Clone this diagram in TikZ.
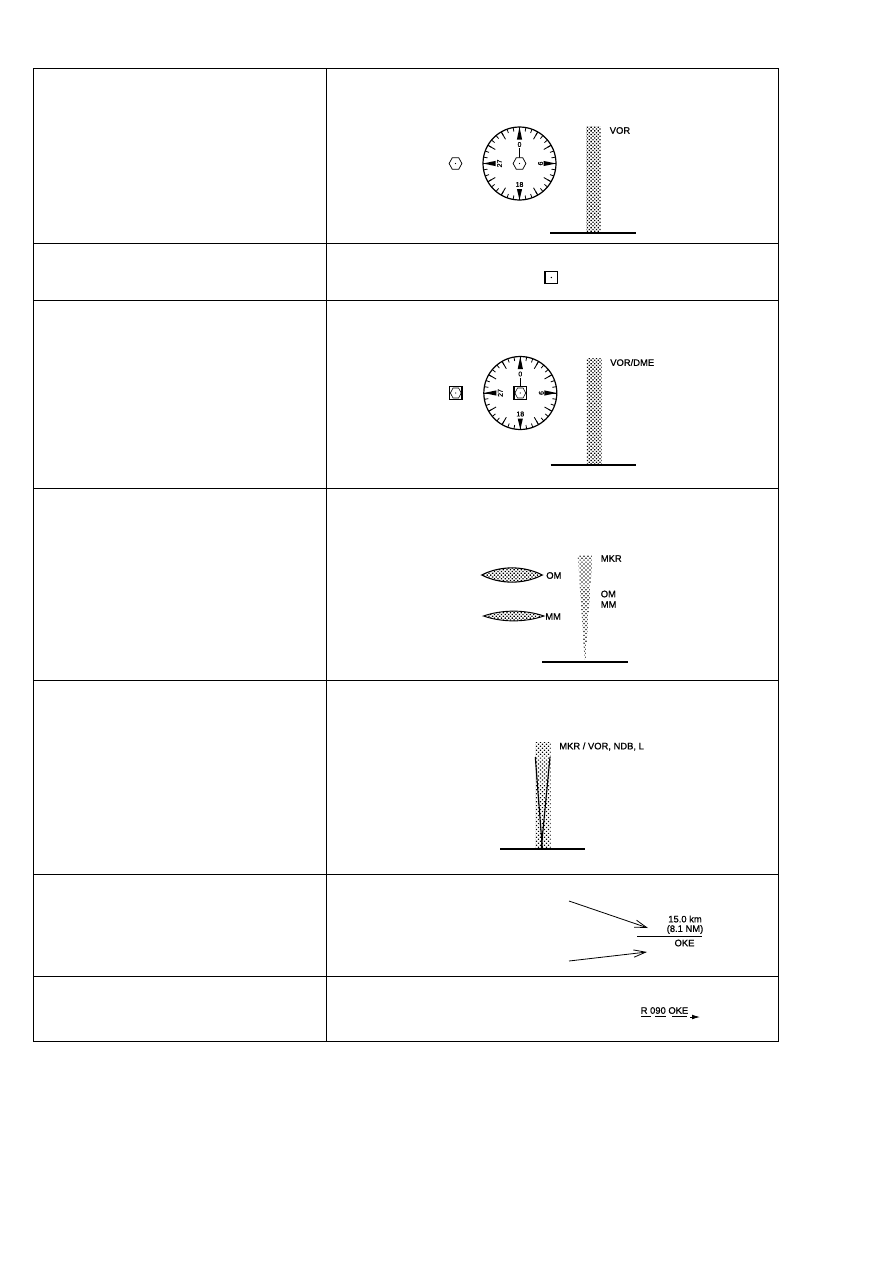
\documentclass[tikz,border=0pt]{standalone}
\usepackage{fontspec}
\setmainfont{Liberation Sans}
\newfontfamily\heavy[FakeBold=0.7]{Liberation Sans}
\usetikzlibrary{patterns.meta,arrows.meta,calc}
\tikzset{
  rule/.style={line width=0.75pt,black},
  ground/.style={line width=1.3pt,black},
  stipple/.style={pattern={Dots[distance=1.9pt,radius=0.68pt,angle=45]},pattern color=black},
  sparse/.style={pattern={Dots[distance=2.1pt,radius=0.64pt,angle=45]},pattern color=black},
  lbl/.style={font=\fontsize{7.05}{8}\heavy,inner sep=0pt,anchor=west},
  clbl/.style={font=\fontsize{7.05}{8}\heavy,inner sep=0pt,anchor=center},
  dialnum/.style={font=\fontsize{5.2}{6}\heavy,inner sep=0pt},
  sym/.style={line width=0.55pt,black},
  openarrow/.style={line width=0.6pt,-{Straight Barb[length=9pt,width=5.5pt,line width=0.6pt]}},
}
% hexagonal beacon mark with a centre dot
\newcommand{\hexmark}[1]{
  \draw[sym,fill=white] ($(#1)+(-6.4,0)$) -- ($(#1)+(-3.2,-5.8)$) -- ($(#1)+(3.2,-5.8)$)
     -- ($(#1)+(6.4,0)$) -- ($(#1)+(3.2,5.8)$) -- ($(#1)+(-3.2,5.8)$) -- cycle;
  \fill ($(#1)$) circle[radius=0.6];
}
% square-framed mark, the hexagon standing inside the frame
\newcommand{\dmemark}[1]{
  \draw[line width=1pt,fill=white] ($(#1)+(-6.3,-6.3)$) rectangle ($(#1)+(6.3,6.3)$);
  \draw[line width=0.45pt] ($(#1)+(-5.4,0)$) -- ($(#1)+(-2.8,-5)$) -- ($(#1)+(2.8,-5)$)
     -- ($(#1)+(5.4,0)$) -- ($(#1)+(2.8,5)$) -- ($(#1)+(-2.8,5)$) -- cycle;
  \fill ($(#1)$) circle[radius=0.6];
}
% compass rose: graduated ring, cardinal wedges and numerals
\newcommand{\rose}[2]{
  \begin{scope}[shift={(#1,#2)}]
    \draw[line width=0.9pt] (0,0) circle[radius=36.5];
    \foreach \a in {0,10,...,350}{\draw[line width=0.6pt] (\a:36.5) -- (\a:32.5);}
    \foreach \a in {30,60,120,150,210,240,300,330}{\draw[line width=0.65pt] (\a:36.5) -- (\a:28);}
    \foreach \a/\b in {0/24,90/25.5,180/24,270/24}{\fill (\a:36.5) -- ($(\a:\b)+(\a+90:2.6)$) -- ($(\a:\b)+(\a-90:2.6)$) -- cycle;}
    \node[dialnum] (n0) at (0,-19) {0};
    \node[dialnum,rotate=-90] (n9) at (21,0) {9};
    \node[dialnum] (n18) at (0,21) {18};
    \node[dialnum,rotate=90] (n27) at (-20,0) {27};
    \draw[line width=0.6pt] (0,-15.5) -- (0,-6);
  \end{scope}
}
\begin{document}
\begin{tikzpicture}[x=0.75pt,y=-0.75pt]
\useasboundingbox (0,0) rectangle (893,1263);
\fill[white] (0,0) rectangle (893,1263);
% table frame and rows
\draw[rule] (33,68.5) rectangle (778,1041);
\draw[rule] (326,68.5) -- (326,1041);
\foreach \yy in {243,300,488,680,874,976}{\draw[rule] (33,\yy) -- (778,\yy);}

% VOR row
\rose{519.5}{163.5}
\hexmark{519.5,163.5}
\hexmark{455.5,163.5}
\path[stipple] (586,126) rectangle (600.5,233);
\draw[ground] (550,233) -- (636,233);
\node[lbl] (vor) at (609.5,130.5) {VOR};

% DME mark row
\draw[line width=0.9pt] (545,271.2) rectangle (557.5,283.8);
\fill (551.3,277.5) circle[radius=0.7];

% VOR/DME row
\rose{520.3}{393}
\dmemark{520.3,393}
\dmemark{455.8,393}
\path[stipple] (586.5,358) rectangle (601.5,465);
\draw[ground] (550.5,465) -- (636,465);
\node[lbl] (vordme) at (610,362.5) {VOR/DME};

% marker beacon row
\path[sparse] (577.7,555) -- (592.7,555) -- (585.6,660) -- (584.6,660) -- cycle;
\draw[ground] (542,662) -- (627.5,662);
\draw[line width=0.8pt,preaction={stipple}] (481.7,575) .. controls (500,565.5) and (524,565.5) .. (542.3,575)
   .. controls (524,584.5) and (500,584.5) .. (481.7,575) -- cycle;
\draw[line width=0.7pt,preaction={stipple}] (483.5,616) .. controls (502,609.5) and (525,609.5) .. (544,616)
   .. controls (525,622.5) and (502,622.5) .. (483.5,616) -- cycle;
\node[lbl] (om1) at (546,575.5) {OM};
\node[lbl] (mm1) at (545,616.5) {MM};
\node[lbl] (mkr) at (600.5,558.5) {MKR};
\node[lbl] (om2) at (600.5,594) {OM};
\node[lbl] (mm2) at (600.5,604.5) {MM};

% combined marker row
\path[sparse] (535,742) rectangle (550.5,849);
\draw[line width=0.85pt] (535.3,757) -- (542.4,849);
\draw[line width=0.85pt] (550,757) -- (541.2,849);
\draw[ground] (500,849) -- (585,849);
\node[lbl] (mkrvor) at (559,746.5) {MKR / VOR, NDB, L};

% distance annotation row
\coordinate (a1) at (569,901);
\coordinate (a2) at (648,928);
\coordinate (b1) at (569,961);
\coordinate (b2) at (647,952);
\draw[openarrow] (a1) -- (a2);
\draw[openarrow] (b1) -- (b2);
\draw[line width=0.6pt] (637,936) -- (702,936);
\node[clbl] (dist) at (685,919) {15.0 km};
\node[clbl] (distnm) at (685,929.5) {(8.1 NM)};
\node[clbl] (oke) at (684.5,943) {OKE};

% radial annotation row
\node[clbl] (radial) at (664.5,1010.5) {R 090 OKE};
\draw[line width=0.8pt] (641,1016.5) -- (651,1016.5);
\draw[line width=0.8pt] (655,1016.5) -- (666,1016.5);
\draw[line width=0.8pt] (672,1016.5) -- (687,1016.5);
\coordinate (c1) at (690,1017);
\coordinate (c2) at (700,1017);
\draw[line width=0.6pt,-{Latex[length=6pt,width=3.5pt]}] (c1) -- (c2);
\end{tikzpicture}
\end{document}
